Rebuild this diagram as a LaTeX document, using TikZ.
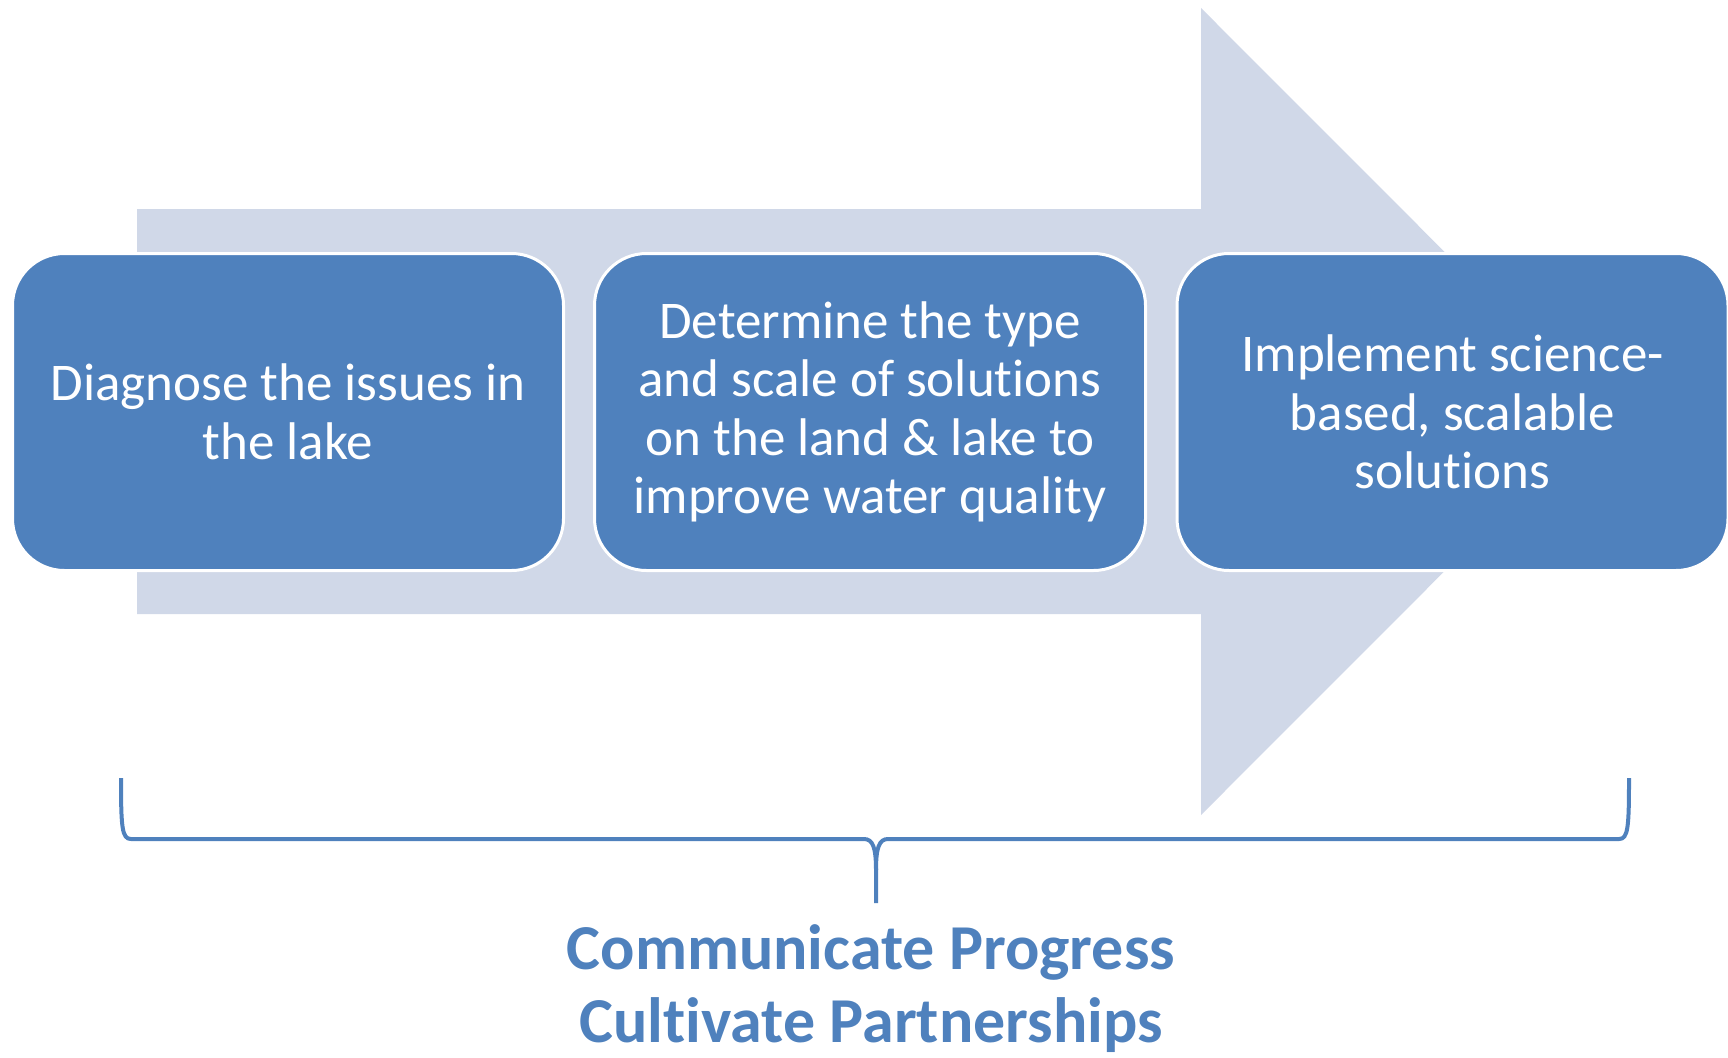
\documentclass[tikz,border=0pt]{standalone}
\usepackage{fontspec}
\setmainfont{Carlito}[Ligatures=NoCommon]
\usepackage{tikz}
\definecolor{stepblue}{HTML}{4F81BD}
\definecolor{arrowgrey}{HTML}{D0D8E8}

\begin{document}
\begin{tikzpicture}
  [x=1pt,y=-1pt,
   stepbox/.style={rectangle,rounded corners=52pt,fill=stepblue,draw=white,line width=3pt,
     minimum width=551pt,minimum height=317pt,text=white,align=center,
     font=\fontsize{53}{58.5}\selectfont},
   goal/.style={text=stepblue,anchor=base,font=\bfseries\fontsize{64}{70}\selectfont}]
  \useasboundingbox (0,0) rectangle (1728,1057);

  % big arrow behind the steps
  \fill[arrowgrey] (137,209) -- (1201,209) -- (1201,8) -- (1604,411.5)
    -- (1201,815) -- (1201,614) -- (137,614) -- cycle;

  \node[stepbox] (s1) at (288,412) {Diagnose the issues in\\the lake};
  \node[stepbox] (s2) at (870,412) {Determine the type\\and scale of solutions\\on the land \& lake to\\improve water quality};
  \node[stepbox] (s3) at (1452.5,412) {Implement science-\\based, scalable\\solutions};

  % brace under the arrow
  \draw[stepblue,line width=4pt]
    (121,778) .. controls (121,828) and (122,839) .. (131,839) -- (864,839)
    .. controls (873,839) and (876,848) .. (876,870) -- (876,903);
  \draw[stepblue,line width=4pt]
    (1629,778) .. controls (1629,828) and (1628,839) .. (1619,839) -- (888,839)
    .. controls (879,839) and (876,848) .. (876,870);

  \node[goal] (g1) at (871,969) {Communicate Progress};
  \node[goal] (g2) at (871,1042) {Cultivate Partnerships};

\end{tikzpicture}
\end{document}
